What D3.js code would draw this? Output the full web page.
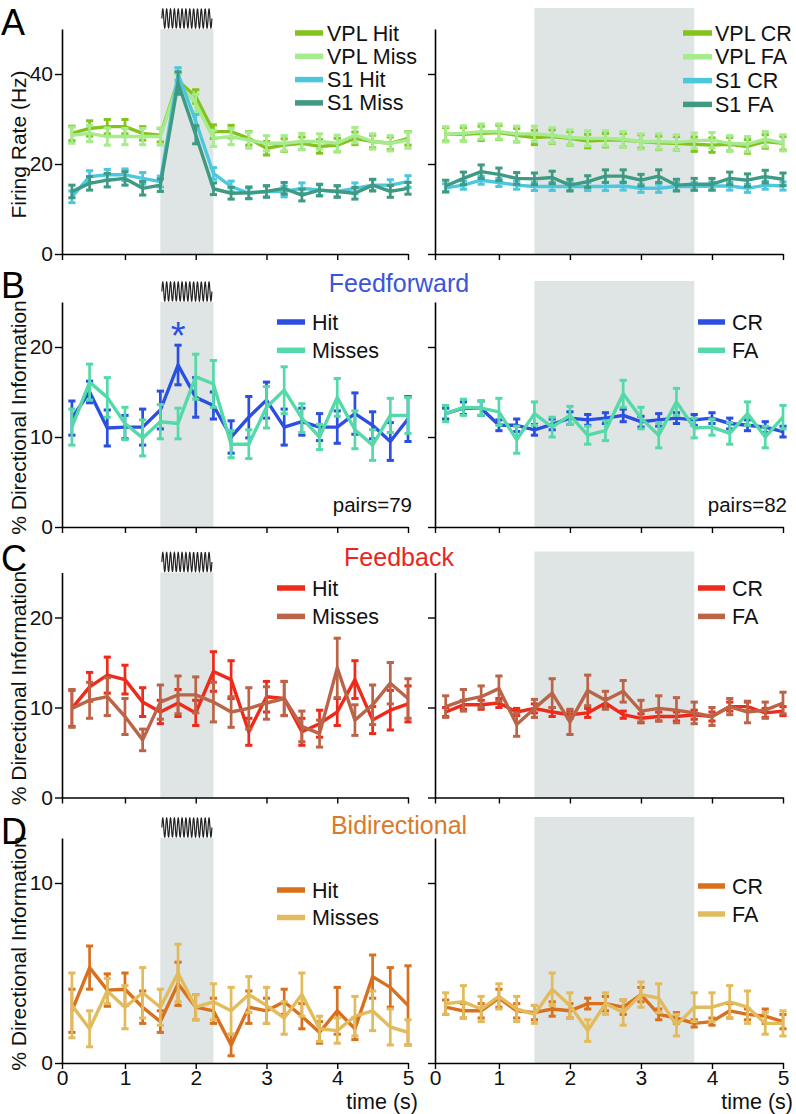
<!DOCTYPE html>
<html><head><meta charset="utf-8">
<script src="https://cdn.jsdelivr.net/npm/d3@7/dist/d3.min.js"></script>
<style>body{margin:0;background:#fff} svg text{font-family:"Liberation Sans",Arial,Helvetica,sans-serif}</style>
</head><body><svg id="c" width="796" height="1114"></svg>
<script>
// ---------- data ----------
const times = [0.25,0.5,0.75,1.0,1.25,1.5,1.75,2.0,2.25,2.5,2.75,3.0,3.25,3.5,3.75,4.0,4.25,4.5,4.75,5.0];
const xTickValues = [0,1,2,3,4,5];
const stimLeft = [1.5,2.25];
const stimRight = [1.5,3.75];

// Panel A (Firing rate, Hz)
const vplHit   = [26.8,27.9,28.3,28.3,26.8,26.4,38.5,35.0,27.2,27.2,25.7,23.5,24.2,24.6,23.9,24.2,25.7,25.0,24.6,25.7];
const vplHitE  = [1.6,1.7,1.6,1.6,1.5,1.5,1.6,1.5,1.5,1.4,1.5,1.5,1.4,1.4,1.5,1.5,1.4,1.4,1.4,1.5];
const vplMiss  = [26.4,26.8,26.1,26.1,26.1,26.1,38.0,33.5,25.7,26.1,25.3,24.6,24.6,25.0,25.0,24.6,26.4,25.0,24.6,25.3];
const vplMissE = [1.8,1.8,1.9,1.8,1.8,1.9,2.0,2.0,1.8,1.8,1.8,1.7,1.7,1.8,1.7,1.8,1.7,1.7,1.7,1.8];
const s1Hit    = [12.7,17.2,17.6,17.6,16.8,16.1,40.0,29.5,17.9,15.0,13.5,13.9,13.9,14.6,14.2,13.9,14.6,15.3,15.3,16.1];
const s1HitE   = [1.3,1.3,1.2,1.3,1.3,1.2,1.4,1.5,1.3,1.2,1.2,1.2,1.2,1.2,1.2,1.2,1.2,1.2,1.2,1.3];
const s1Miss   = [13.9,15.7,16.4,16.8,14.6,15.3,38.0,26.5,14.5,13.5,13.6,13.9,14.6,13.1,14.2,13.9,13.5,15.3,13.9,14.6];
const s1MissE  = [1.4,1.5,1.5,1.5,1.5,1.4,2.5,2.0,1.3,1.3,1.3,1.3,1.3,1.3,1.3,1.3,1.3,1.3,1.3,1.3];
const vplCR    = [26.6,26.6,26.8,27.0,26.4,25.9,26.1,25.7,25.1,25.3,25.3,25.0,24.7,24.6,24.4,24.2,24.4,23.9,25.0,24.6];
const vplCRE   = [1.5,1.5,1.6,1.6,1.5,1.6,1.5,1.5,1.5,1.5,1.5,1.5,1.5,1.5,1.6,1.6,1.5,1.5,1.5,1.5];
const vplFA    = [26.6,26.8,27.2,27.2,26.7,26.7,26.4,25.9,25.7,25.7,25.5,25.0,25.0,24.8,25.2,25.3,24.6,24.4,25.5,24.7];
const vplFAE   = [1.7,1.7,1.7,1.7,1.7,1.7,1.7,1.7,1.7,1.7,1.7,1.7,1.7,1.7,1.7,1.7,1.7,1.7,1.7,1.8];
const s1CR     = [14.7,15.3,16.4,15.9,15.3,15.0,15.0,15.0,15.0,15.0,15.1,14.6,14.6,15.0,15.0,15.1,15.1,14.6,15.3,15.1];
const s1CRE    = [0.9,0.9,0.9,0.9,0.9,0.9,0.9,0.9,0.9,0.9,0.9,0.9,0.9,0.9,0.9,0.9,0.9,0.9,0.9,0.9];
const s1FA     = [15.1,16.8,18.3,17.7,16.8,16.7,17.0,15.3,16.1,17.3,17.3,16.4,17.3,15.3,15.5,15.5,16.8,16.4,17.2,16.6];
const s1FAE    = [1.3,1.4,1.5,1.4,1.3,1.3,1.4,1.3,1.3,1.4,1.4,1.3,1.4,1.3,1.3,1.3,1.4,1.4,1.4,1.4];

// Panel B (Feedforward)
const ffHit    = [12.1,15.0,11.0,11.1,11.1,13.0,18.0,14.4,13.5,10.0,12.2,14.1,11.1,11.7,11.1,11.1,12.6,11.3,9.5,12.0];
const ffHitE   = [1.9,1.2,2.0,1.3,2.0,2.1,2.2,2.2,1.5,1.8,2.3,2.0,2.0,1.5,1.5,1.8,2.3,1.5,2.1,2.5];
const ffMiss   = [11.1,16.1,14.4,11.5,9.9,11.7,11.5,16.7,15.9,9.2,9.2,13.3,15.2,12.1,10.0,14.4,10.8,9.1,12.4,12.4];
const ffMissE  = [2.0,2.0,2.2,1.8,2.0,1.9,1.7,2.5,2.6,1.5,1.6,2.3,2.6,1.6,1.4,2.1,2.1,1.7,1.9,2.0];
const ffCR     = [12.6,13.2,13.2,11.3,11.3,10.8,11.4,12.1,11.9,12.1,12.4,11.7,11.9,12.1,11.9,12.1,11.5,11.3,11.1,10.6];
const ffCRE    = [0.6,0.7,0.8,0.6,0.7,0.6,0.6,0.7,0.6,0.6,0.7,0.6,0.7,0.6,0.6,0.6,0.6,0.6,0.6,0.6];
const ffFA     = [12.6,13.3,13.2,12.8,9.7,12.6,11.1,12.4,10.2,10.7,14.8,12.1,10.2,13.9,11.0,11.1,10.4,12.6,10.0,12.2];
const ffFAE    = [0.9,0.9,0.8,1.5,1.5,1.3,1.1,1.0,1.0,1.1,1.5,1.2,1.4,1.5,1.1,0.9,1.2,1.3,1.2,1.3];

// Panel C (Feedback)
const fbHit    = [9.9,12.3,13.6,13.1,10.6,9.5,10.5,9.4,14.0,13.1,7.3,11.2,11.0,7.3,8.2,9.5,13.1,8.6,9.7,10.4];
const fbHitE   = [2.0,1.6,2.0,1.6,1.6,1.3,1.5,1.4,2.2,2.1,1.5,1.7,1.9,1.5,1.5,1.5,2.1,1.5,2.2,2.0];
const fbMiss   = [9.9,10.8,11.2,9.0,6.4,10.6,11.4,11.4,10.6,9.5,9.9,10.5,11.0,7.9,7.1,14.4,8.6,10.3,12.7,11.0];
const fbMissE  = [2.1,2.0,2.1,2.0,1.2,1.9,2.1,2.0,2.2,1.7,2.3,1.8,1.9,1.7,1.5,3.3,1.7,2.2,2.3,2.2];
const fbCR     = [9.5,10.3,10.3,10.5,9.5,9.9,9.5,9.2,9.4,10.5,9.2,8.8,9.0,9.0,9.2,9.0,10.1,10.1,9.4,9.6];
const fbCRE    = [0.5,0.5,0.5,0.5,0.4,0.5,0.5,0.4,0.5,0.5,0.4,0.5,0.5,0.5,0.5,0.5,0.5,0.5,0.5,0.5];
const fbFA     = [10.1,10.8,11.2,12.1,8.1,9.9,11.6,8.4,11.9,10.8,11.8,9.6,9.9,9.7,9.4,9.0,10.1,9.5,9.7,10.5];
const fbFAE    = [1.2,1.2,1.2,1.4,1.3,1.0,1.6,1.4,1.7,1.0,1.2,1.2,1.4,1.4,1.2,1.0,0.9,1.2,0.9,1.2];

// Panel D (Bidirectional)
const biHit    = [2.9,5.3,4.05,4.1,3.1,2.3,4.4,3.1,2.9,1.0,3.1,2.9,3.4,2.6,1.7,2.9,1.9,4.8,4.2,3.2];
const biHitE   = [1.2,1.2,0.9,0.9,0.9,0.6,1.2,0.7,0.7,0.6,0.9,0.7,0.7,0.7,0.6,1.3,0.6,1.2,1.1,2.2];
const biMiss   = [3.2,1.9,4.0,3.1,3.9,3.1,5.0,3.1,3.4,2.9,3.8,3.2,2.5,3.8,1.9,1.8,2.6,2.9,2.0,1.7];
const biMissE  = [1.8,1.0,0.7,1.2,1.4,1.0,1.6,0.7,1.0,1.3,1.0,1.0,0.9,1.2,0.7,0.7,1.1,1.1,1.0,0.7];
const biCR     = [3.1,2.9,2.9,3.6,2.9,2.8,3.0,2.9,3.3,3.3,3.1,3.8,2.7,2.5,2.2,2.3,2.9,2.7,2.6,2.3];
const biCRE    = [0.4,0.4,0.4,0.5,0.4,0.4,0.4,0.4,0.3,0.4,0.4,0.4,0.3,0.3,0.2,0.2,0.4,0.3,0.4,0.4];
const biFA     = [3.3,3.4,3.0,3.7,3.0,2.7,4.1,3.2,1.8,3.3,2.8,3.8,3.6,2.1,3.1,3.1,3.4,3.1,2.2,2.2];
const biFAE    = [0.6,0.9,0.7,0.7,0.7,0.5,0.9,0.7,0.6,0.6,0.7,0.7,0.8,0.6,0.8,0.8,0.9,0.9,0.6,0.7];

// ---------- colours ----------
const C = {
  vplHit:"#84c31c", vplMiss:"#a6eb8c", s1Hit:"#4cc7de", s1Miss:"#3f9a84",
  blue:"#2b4fe0", aqua:"#54daa8", red:"#ef2a1a", brown:"#bb6548",
  orange:"#d9701d", gold:"#e2bb5c", shade:"#dfe4e4"
};

// ---------- layout ----------
const svg = d3.select("#c");
const xL = d3.scaleLinear().domain([0.11,5]).range([62,408]);
const xR = d3.scaleLinear().domain([0.10,5]).range([435,783]);

const rows = [
  {letter:"A", letterY:35, yDomain:[0,50], yRange:[254,29], yTicks:[0,20,40], ylabel:"Firing Rate (Hz)",
   title:null,
   left:{series:[["VPL Hit",vplHit,vplHitE,C.vplHit],["VPL Miss",vplMiss,vplMissE,C.vplMiss],["S1 Hit",s1Hit,s1HitE,C.s1Hit],["S1 Miss",s1Miss,s1MissE,C.s1Miss]],
         leg:{x1:295,x2:323,tx:327,y0:33,dy:23.3}},
   right:{series:[["VPL CR",vplCR,vplCRE,C.vplHit],["VPL FA",vplFA,vplFAE,C.vplMiss],["S1 CR",s1CR,s1CRE,C.s1Hit],["S1 FA",s1FA,s1FAE,C.s1Miss]],
         leg:{x1:683,x2:712,tx:715,y0:33,dy:23.8}}},
  {letter:"B", letterY:298, yDomain:[0,25], yRange:[527,302], yTicks:[0,10,20], ylabel:"% Directional Information",
   title:["Feedforward","#3a55dc",292], star:true, pairs:["pairs=79","pairs=82"], pairsY:512,
   left:{series:[["Hit",ffHit,ffHitE,C.blue],["Misses",ffMiss,ffMissE,C.aqua]], leg:{x1:277,x2:305,tx:312,y0:322,dy:28.3}},
   right:{series:[["CR",ffCR,ffCRE,C.blue],["FA",ffFA,ffFAE,C.aqua]], leg:{x1:698,x2:725,tx:732,y0:322,dy:28.3}}},
  {letter:"C", letterY:571, yDomain:[0,25], yRange:[797.5,572.5], yTicks:[0,10,20], ylabel:"% Directional Information",
   title:["Feedback","#e8261c",566],
   left:{series:[["Hit",fbHit,fbHitE,C.red],["Misses",fbMiss,fbMissE,C.brown]], leg:{x1:277,x2:305,tx:312,y0:588,dy:28.4}},
   right:{series:[["CR",fbCR,fbCRE,C.red],["FA",fbFA,fbFAE,C.brown]], leg:{x1:698,x2:725,tx:732,y0:588,dy:28.4}}},
  {letter:"D", letterY:844, yDomain:[0,12.5], yRange:[1063,838], yTicks:[0,10], ylabel:"% Directional Information",
   title:["Bidirectional","#d97a2b",834], xLabels:true,
   left:{series:[["Hit",biHit,biHitE,C.orange],["Misses",biMiss,biMissE,C.gold]], leg:{x1:277,x2:305,tx:312,y0:890,dy:27.5}},
   right:{series:[["CR",biCR,biCRE,C.orange],["FA",biFA,biFAE,C.gold]], leg:{x1:698,x2:725,tx:732,y0:886,dy:28}}}
];

function drawPanel(row, side){
  const x = side===0 ? xL : xR;
  const y = d3.scaleLinear().domain(row.yDomain).range(row.yRange);
  const g = svg.append("g");
  const top = row.yRange[1], bot = row.yRange[0];
  const stim = side===0 ? stimLeft : stimRight;
  // shading
  const shTop = side===0 ? top : top-21;
  g.append("rect").attr("x",x(stim[0])).attr("y",shTop).attr("width",x(stim[1])-x(stim[0]))
    .attr("height",bot-shTop).attr("fill",C.shade);
  // stimulus wave (left only)
  if(side===0){
    const x0=x(stim[0])+1.5, x1=x(stim[1])-1.5, yc=top-10.5, amp=9.5, cycles=13, n=300;
    const pts=d3.range(n+1).map(i=>{const f=i/n;return [x0+f*(x1-x0), yc - amp*Math.sin(f*cycles*2*Math.PI)];});
    g.append("path").attr("d",d3.line()(pts)).attr("fill","none").attr("stroke","#222").attr("stroke-width",1.2);
  }
  // axes
  const xPos = xTickValues.map(v=> v===0 ? x.domain()[0] : v);
  const xa = d3.axisBottom(x).tickValues(xPos).tickSize(6).tickSizeOuter(0)
     .tickFormat((d,i)=> row.xLabels ? String(xTickValues[i]) : "");
  const gx = g.append("g").attr("transform",`translate(0,${bot})`).call(xa);
  const ya = d3.axisLeft(y).tickValues(row.yTicks).tickSize(7).tickSizeOuter(0)
     .tickFormat(d=> side===0 ? String(d) : "");
  const gy = g.append("g").attr("transform",`translate(${x.range()[0]},0)`).call(ya);
  [gx,gy].forEach(a=>{
    a.select(".domain").attr("stroke","#000").attr("stroke-width",1.6);
    a.selectAll(".tick line").attr("stroke","#000").attr("stroke-width",1.4);
    a.selectAll(".tick text").attr("font-size",21).attr("fill","#111")
      .attr("font-family",'"Liberation Sans",Arial,sans-serif');
  });
  gy.selectAll(".tick text").attr("x",-9);
  gx.selectAll(".tick text").attr("y",7);
  // series
  const p = side===0 ? row.left : row.right;
  p.series.forEach(([name,vals,errs,col])=>{
    const sg = g.append("g");
    vals.forEach((v,i)=>{
      const cx = x(times[i]), yl = y(v-errs[i]), yh = y(v+errs[i]);
      sg.append("line").attr("x1",cx).attr("x2",cx).attr("y1",yl).attr("y2",yh).attr("stroke",col).attr("stroke-width",2.7);
      [yl,yh].forEach(yy=> sg.append("line").attr("x1",cx-3.6).attr("x2",cx+3.6).attr("y1",yy).attr("y2",yy)
        .attr("stroke",col).attr("stroke-width",3));
    });
    sg.append("path").datum(vals).attr("d",d3.line().x((d,i)=>x(times[i])).y(d=>y(d)))
      .attr("fill","none").attr("stroke",col).attr("stroke-width",3.4).attr("stroke-linejoin","round");
  });
  // legend
  const L = p.leg;
  p.series.forEach(([name,,,col],i)=>{
    const yy = L.y0 + i*L.dy;
    g.append("line").attr("x1",L.x1).attr("x2",L.x2).attr("y1",yy).attr("y2",yy).attr("stroke",col).attr("stroke-width",5.5);
    g.append("text").attr("x",L.tx).attr("y",yy+7.5).attr("font-size",21.5).attr("fill","#111").text(name);
  });
  if(row.pairs){
    g.append("text").attr("x",x.range()[1]+4).attr("y",row.pairsY).attr("text-anchor","end")
      .attr("font-size",20.5).attr("fill","#111").text(row.pairs[side]);
  }
  if(row.star && side===0){
    const i = 6;
    g.append("text").attr("x",x(times[i])).attr("y",y(ffHit[i]+ffHitE[i])+4).attr("text-anchor","middle")
      .attr("font-size",38).attr("fill",C.blue).text("*");
  }
  if(row.xLabels){
    g.append("text").attr("x",x.range()[1]+10).attr("y",1109).attr("text-anchor","end")
      .attr("font-size",21.5).attr("fill","#111").text("time (s)");
  }
  return y;
}

rows.forEach(row=>{
  drawPanel(row,0);
  drawPanel(row,1);
  svg.append("text").attr("x",1).attr("y",row.letterY).attr("font-size",36).attr("fill","#000").text(row.letter);
  const cy = (row.yRange[0]+row.yRange[1])/2 + 3;
  svg.append("text").attr("transform",`translate(26,${cy}) rotate(-90)`).attr("text-anchor","middle")
    .attr("font-size",21).attr("fill","#111").text(row.ylabel);
  if(row.title){
    svg.append("text").attr("x",399).attr("y",row.title[2]).attr("text-anchor","middle")
      .attr("font-size",25).attr("fill",row.title[1]).text(row.title[0]);
  }
});
</script></body></html>
